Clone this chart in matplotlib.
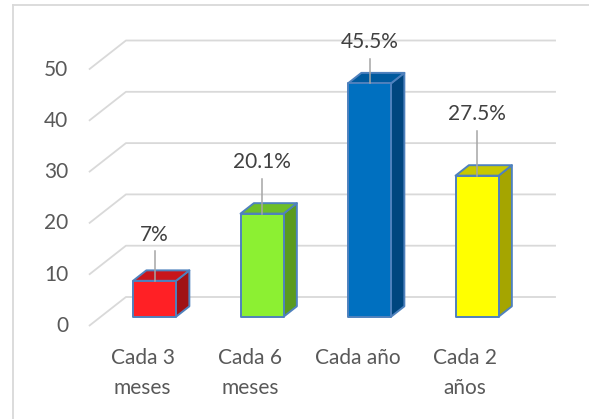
"""3D-style bar chart: frecuencia (Cada 3 meses ... Cada 2 años)."""

import matplotlib
matplotlib.use("Agg")
import matplotlib.pyplot as plt
from matplotlib.patches import Polygon
from matplotlib.lines import Line2D

categories = ["Cada 3\nmeses", "Cada 6\nmeses", "Cada año", "Cada 2\naños"]
values = [7, 20.1, 45.5, 27.5]
labels = ["7%", "20.1%", "45.5%", "27.5%"]
label_offsets = [9, 10, 8, 12]
ticks = [0, 10, 20, 30, 40, 50]

front_colors = ["#ff2025", "#8cf032", "#0070c0", "#ffff00"]
top_colors = ["#c8161c", "#6ebe28", "#005a9e", "#c8c800"]
side_colors = ["#a01216", "#5a9a1e", "#00467f", "#a5a500"]
edge = "#4f81bd"
text_color = "#595959"
grid_color = "#d9d9d9"
FONT = ["Lato", "DejaVu Sans"]

# oblique projection: depth 0 (front) .. 1 (back)
DX = 37 / 107.5   # category units
DY = 29 / 5.13    # value units
D0, D1 = 0.32, 0.68  # bar depth span
HALF = 0.2        # half bar width


def proj(x, v, d):
    return (x + d * DX, v + d * DY)


fig = plt.figure(figsize=(5.89, 4.19), dpi=100)
ax = fig.add_axes([0, 0, 1, 1])
ax.set_xlim(-1.3274, 4.1516)
ax.set_ylim(-18.13, 63.55)
ax.axis("off")

# gridlines: left wall diagonal + back wall line
x_left, x_right = -0.5, 3.5
for t in ticks:
    p0 = proj(x_left, t, 0)
    p1 = proj(x_left, t, 1)
    p2 = proj(x_right, t, 1)
    ax.plot([p0[0], p1[0], p2[0]], [p0[1], p1[1], p2[1]],
            color=grid_color, lw=1.3, zorder=1, solid_capstyle="butt")
    ax.annotate(str(t), xy=p0, xytext=(-15, 0), textcoords="offset points",
                ha="right", va="center", fontsize=15, color=text_color,
                family=FONT)

for i, v in enumerate(values):
    xl, xr = i - HALF, i + HALF
    front = [proj(xl, 0, D0), proj(xr, 0, D0), proj(xr, v, D0), proj(xl, v, D0)]
    side = [proj(xr, 0, D0), proj(xr, 0, D1), proj(xr, v, D1), proj(xr, v, D0)]
    top = [proj(xl, v, D0), proj(xr, v, D0), proj(xr, v, D1), proj(xl, v, D1)]
    for pts, c in [(side, side_colors[i]), (top, top_colors[i]), (front, front_colors[i])]:
        ax.add_patch(Polygon(pts, closed=True, facecolor=c, edgecolor=edge,
                             lw=1.4, joinstyle="round", zorder=3))
    # data label with leader line
    cx, cy = proj(i, v, D0)
    ly = v + label_offsets[i]
    lx, lyy = proj(i, ly, D0)
    ax.plot([cx, cx], [cy, lyy - 3.2], color="#a6a6a6", lw=1.1, zorder=4)
    ax.text(lx, lyy, labels[i], ha="center", va="center", fontsize=15,
            color="#404040", family=FONT, zorder=5)
    # category label on the front floor edge
    fx, fy = proj(i, 0, 0)
    ax.annotate(categories[i], xy=(fx, fy), xytext=(0, -16),
                textcoords="offset points", ha="center", va="top",
                fontsize=15, color=text_color, linespacing=1.6,
                family=FONT)

# chart area border (left and top only visible)
fig.add_artist(Line2D([12.5 / 589, 12.5 / 589], [0, 1 - 5 / 419],
                      transform=fig.transFigure, color="#d9d9d9", lw=1.3))
fig.add_artist(Line2D([12.5 / 589, 1], [1 - 5 / 419, 1 - 5 / 419],
                      transform=fig.transFigure, color="#d9d9d9", lw=1.3))

fig.savefig("out.png", dpi=100)
